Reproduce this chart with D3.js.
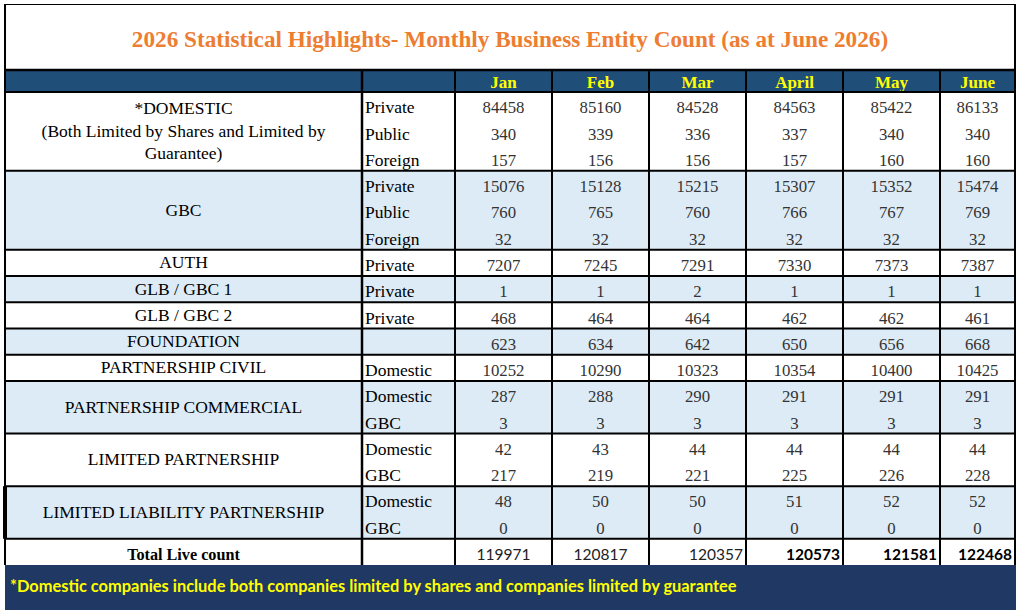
<!DOCTYPE html>
<html>
<head>
<meta charset="utf-8">
<script src="https://cdn.jsdelivr.net/npm/d3@7"></script>
<style>
  body { margin: 0; background: #fff; }
  svg { display: block; }
</style>
</head>
<body>
<svg id="table" width="1017" height="612"></svg>
<script>
"use strict";

const months = ["Jan", "Feb", "Mar", "April", "May", "June"];

const groupLabels = [
    ["*DOMESTIC", "(Both Limited by Shares and Limited by", "Guarantee)"],
    ["GBC"],
    ["AUTH"],
    ["GLB / GBC 1"],
    ["GLB / GBC 2"],
    ["FOUNDATION"],
    ["PARTNERSHIP CIVIL"],
    ["PARTNERSHIP COMMERCIAL"],
    ["LIMITED PARTNERSHIP"],
    ["LIMITED LIABILITY PARTNERSHIP"]
];

// which group every sub-row belongs to
const rowGroup = [0, 0, 0, 1, 1, 1, 2, 3, 4, 5, 6, 7, 7, 8, 8, 9, 9];

const rowTypes = ["Private", "Public", "Foreign",
                  "Private", "Public", "Foreign",
                  "Private", "Private", "Private", "",
                  "Domestic", "Domestic", "GBC",
                  "Domestic", "GBC", "Domestic", "GBC"];

const counts = [
    [84458, 85160, 84528, 84563, 85422, 86133],
    [340, 339, 336, 337, 340, 340],
    [157, 156, 156, 157, 160, 160],
    [15076, 15128, 15215, 15307, 15352, 15474],
    [760, 765, 760, 766, 767, 769],
    [32, 32, 32, 32, 32, 32],
    [7207, 7245, 7291, 7330, 7373, 7387],
    [1, 1, 2, 1, 1, 1],
    [468, 464, 464, 462, 462, 461],
    [623, 634, 642, 650, 656, 668],
    [10252, 10290, 10323, 10354, 10400, 10425],
    [287, 288, 290, 291, 291, 291],
    [3, 3, 3, 3, 3, 3],
    [42, 43, 44, 44, 44, 44],
    [217, 219, 221, 225, 226, 228],
    [48, 50, 50, 51, 52, 52],
    [0, 0, 0, 0, 0, 0]
];

const totals = [119971, 120817, 120357, 120573, 121581, 122468];

const titleText = "2026 Statistical Highlights- Monthly Business Entity Count (as at June 2026)";
const footnote = "*Domestic companies include both companies limited by shares and companies limited by guarantee";

// layout
const left = 5, right = 1015;
const titleTop = 4, headTop = 70, bodyTop = 92, bodyBottom = 565, footBottom = 610;
const col1Right = 362, col2Right = 455;
const serif = "'Liberation Serif', 'Times New Roman', serif";
const sans = "Lato, 'Open Sans', sans-serif";
const lightBlue = "#ddebf7";

// how the totals were typed into the sheet
const totalStyle = [
    {weight: "normal", anchor: "middle"},
    {weight: "normal", anchor: "middle"},
    {weight: "normal", anchor: "end"},
    {weight: "bold", anchor: "end"},
    {weight: "bold", anchor: "end"},
    {weight: "bold", anchor: "end"}
];

const svg = d3.select("svg#table");

const y = d3.scaleBand()
    .domain(d3.range(rowTypes.length + 1))
    .range([bodyTop, bodyBottom]);

const x = d3.scaleBand()
    .domain(months)
    .range([col2Right, col2Right + 97 * months.length]);

function colLeft(m) { return x(m); }
function colRight(m) { return Math.min(x(m) + x.bandwidth(), right); }
function colMid(m) { return (colLeft(m) + colRight(m)) / 2; }

// group extents from the sub-rows
const groups = groupLabels.map(function(lines, g) {
    let idx = rowGroup.map((r, i) => r === g ? i : -1).filter(i => i >= 0);
    return {
        lines: lines,
        index: g,
        top: y(idx[0]),
        bottom: y(idx[idx.length - 1]) + y.bandwidth()
    };
});
const totalTop = y(rowTypes.length);

// backgrounds
svg.append("rect")
    .attr("x", left).attr("y", titleTop)
    .attr("width", right - left).attr("height", headTop - titleTop)
    .attr("fill", "#fff");

svg.append("rect")
    .attr("x", left).attr("y", headTop)
    .attr("width", right - left).attr("height", bodyTop - headTop)
    .attr("fill", "#1f4e79");

svg.selectAll("rect.group")
    .data(groups)
    .join("rect")
    .attr("class", "group")
    .attr("x", left)
    .attr("y", d => d.top)
    .attr("width", right - left)
    .attr("height", d => d.bottom - d.top)
    .attr("fill", d => d.index % 2 ? lightBlue : "#fff");

svg.append("rect")
    .attr("x", left).attr("y", bodyBottom)
    .attr("width", 1016 - left).attr("height", footBottom - bodyBottom)
    .attr("fill", "#203864");

// title
svg.append("text")
    .attr("x", 510)
    .attr("y", 47)
    .attr("text-anchor", "middle")
    .style("font-family", serif)
    .style("font-weight", "bold")
    .style("font-size", "23.2px")
    .attr("fill", "#ed7d31")
    .text(titleText);

// month headers
svg.selectAll("text.month")
    .data(months)
    .join("text")
    .attr("class", "month")
    .attr("x", m => colMid(m))
    .attr("y", 88)
    .attr("text-anchor", "middle")
    .style("font-family", serif)
    .style("font-weight", "bold")
    .style("font-size", "17px")
    .attr("fill", "#ffff00")
    .text(m => m);

// group labels
const lineGap = 22.5;
svg.selectAll("g.glabel")
    .data(groups)
    .join("g")
    .attr("class", "glabel")
    .each(function(d) {
        let mid = (d.top + d.bottom) / 2;
        let first = mid - (d.lines.length - 1) * lineGap / 2;
        d3.select(this).selectAll("text")
            .data(d.lines)
            .join("text")
            .attr("x", (left + col1Right) / 2)
            .attr("y", (t, i) => first + i * lineGap + 5.5)
            .attr("text-anchor", "middle")
            .style("font-family", serif)
            .style("font-size", "17.5px")
            .attr("fill", "#000")
            .text(t => t);
    });

// sub-row labels
svg.selectAll("text.rtype")
    .data(rowTypes)
    .join("text")
    .attr("class", "rtype")
    .attr("x", col1Right + 3)
    .attr("y", (d, i) => y(i) + y.bandwidth() - 5)
    .style("font-family", serif)
    .style("font-size", "17.5px")
    .attr("fill", "#000")
    .text(d => d);

// values
svg.selectAll("g.row")
    .data(counts)
    .join("g")
    .attr("class", "row")
    .each(function(vals, i) {
        d3.select(this).selectAll("text")
            .data(vals)
            .join("text")
            .attr("x", (v, j) => colMid(months[j]))
            .attr("y", y(i) + y.bandwidth() - 5)
            .attr("text-anchor", "middle")
            .style("font-family", serif)
            .style("font-size", "16.8px")
            .attr("fill", "#333")
            .text(v => v);
    });

// total row
svg.append("text")
    .attr("x", (left + col1Right) / 2)
    .attr("y", totalTop + y.bandwidth() - 5)
    .attr("text-anchor", "middle")
    .style("font-family", serif)
    .style("font-weight", "bold")
    .style("font-size", "16.2px")
    .attr("fill", "#000")
    .text("Total Live count");

svg.selectAll("text.total")
    .data(totals)
    .join("text")
    .attr("class", "total")
    .attr("x", (v, j) => totalStyle[j].anchor === "end" ? colRight(months[j]) - 3 : colMid(months[j]))
    .attr("y", totalTop + y.bandwidth() - 5)
    .attr("text-anchor", (v, j) => totalStyle[j].anchor)
    .style("font-family", sans)
    .style("font-weight", (v, j) => totalStyle[j].weight)
    .style("font-size", "15.5px")
    .attr("fill", (v, j) => totalStyle[j].weight === "bold" ? "#000" : "#222")
    .text(v => v);

// footnote
svg.append("text")
    .attr("x", 10)
    .attr("y", 592)
    .style("font-family", sans)
    .style("font-weight", "bold")
    .style("font-size", "16.4px")
    .attr("fill", "#ffff00")
    .text(footnote);

// grid lines
const lines = svg.append("g").attr("stroke", "#000").attr("fill", "none");

lines.append("line")
    .attr("x1", left).attr("x2", right)
    .attr("y1", titleTop + 0.5).attr("y2", titleTop + 0.5)
    .attr("stroke-width", 1);
lines.append("line")
    .attr("x1", left).attr("x2", left)
    .attr("y1", titleTop).attr("y2", bodyBottom)
    .attr("stroke-width", 2);
lines.append("line")
    .attr("x1", right).attr("x2", right)
    .attr("y1", titleTop).attr("y2", bodyBottom)
    .attr("stroke-width", 2);

const hLines = [headTop, bodyTop].concat(groups.map(d => d.bottom));
lines.selectAll("line.h")
    .data(hLines)
    .join("line")
    .attr("class", "h")
    .attr("x1", left).attr("x2", right)
    .attr("y1", d => d).attr("y2", d => d)
    .attr("stroke-width", (d, i) => i === 0 ? 2.5 : 2);

const vLines = [col1Right, col2Right].concat(months.slice(1).map(m => x(m)));
lines.selectAll("line.v")
    .data(vLines)
    .join("line")
    .attr("class", "v")
    .attr("x1", d => d).attr("x2", d => d)
    .attr("y1", headTop).attr("y2", bodyBottom)
    .attr("stroke-width", (d, i) => i === 0 ? 2.5 : 2);

// heavier left edge on the LLP row
const llp = groups[groups.length - 1];
lines.append("line")
    .attr("x1", left).attr("x2", left)
    .attr("y1", llp.top).attr("y2", llp.bottom)
    .attr("stroke-width", 4);
</script>
</body>
</html>
